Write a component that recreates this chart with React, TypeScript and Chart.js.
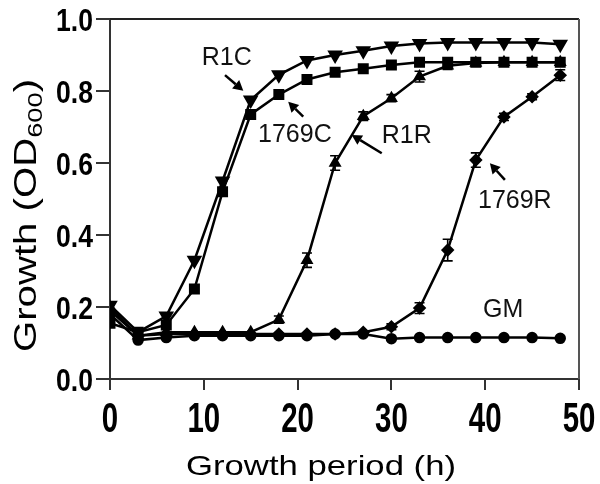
import React, { useEffect, useRef } from 'react';
import { Chart, registerables } from 'chart.js';

Chart.register(...registerables);

// ---- data ----
const hours = [0, 3, 6, 9, 12, 15, 18, 21, 24, 27, 30, 33, 36, 39, 42, 45, 48];
const r1c = [0.205, 0.13, 0.175, 0.33, 0.55, 0.775, 0.845, 0.885, 0.9, 0.912, 0.925, 0.932, 0.935, 0.935, 0.935, 0.935, 0.93];
const c1769 = [0.155, 0.13, 0.15, 0.25, 0.52, 0.735, 0.79, 0.832, 0.852, 0.862, 0.872, 0.88, 0.88, 0.88, 0.88, 0.88, 0.88];
const r1r = [0.2, 0.12, 0.13, 0.13, 0.13, 0.13, 0.165, 0.33, 0.6, 0.73, 0.78, 0.84, 0.87, 0.878, 0.88, 0.88, 0.88];
const r1769 = [0.19, 0.12, 0.125, 0.125, 0.125, 0.125, 0.125, 0.125, 0.125, 0.13, 0.145, 0.197, 0.358, 0.608, 0.728, 0.784, 0.844];
const gm = [0.18, 0.108, 0.115, 0.12, 0.12, 0.12, 0.12, 0.12, 0.125, 0.125, 0.112, 0.115, 0.115, 0.115, 0.115, 0.115, 0.113];
const r1rErr = [0, 0, 0, 0, 0, 0, 0.01, 0.02, 0.02, 0.012, 0.01, 0.015, 0.01, 0.008, 0, 0, 0];
const r1769Err = [0, 0, 0, 0, 0, 0, 0, 0, 0, 0, 0.008, 0.015, 0.03, 0.02, 0.01, 0.008, 0.015];

const xTicks = [0, 10, 20, 30, 40, 50];
const xTickLabels = ['0', '10', '20', '30', '40', '50'];
const yTicks = [0, 0.2, 0.4, 0.6, 0.8, 1.0];
const yTickLabels = ['0.0', '0.2', '0.4', '0.6', '0.8', '1.0'];

const xTitle = 'Growth period (h)';
const yTitleMain = 'Growth (OD';
const yTitleSub = '600';
const yTitleEnd = ')';

// annotation labels (text, anchor in data units: h, OD)
const labelTexts = ['R1C', '1769C', 'R1R', '1769R', 'GM'];
const labelAt = [
  [9.78, 0.872],
  [15.78, 0.658],
  [28.97, 0.656],
  [39.23, 0.475],
  [39.77, 0.172],
];
// arrows: tail -> head in data units
const arrowFrom = [
  [12.26, 0.844],
  [20.6, 0.729],
  [28.97, 0.627],
  [42.1, 0.553],
];
const arrowTo = [
  [14.21, 0.801],
  [19.0, 0.77],
  [25.77, 0.678],
  [40.5, 0.599],
];

const toPts = (ys: number[]) => hours.map((h, i) => ({ x: h, y: ys[i] }));

const FONT = '"Liberation Sans", Arial, Helvetica, sans-serif';

function drawScaled(ctx: CanvasRenderingContext2D, text: string, x: number, y: number, sx: number) {
  ctx.save();
  ctx.translate(x, y);
  ctx.scale(sx, 1);
  ctx.fillText(text, 0, 0);
  ctx.restore();
}

const customPlugin = {
  id: 'customDraw',
  afterDatasetsDraw(chart: any) {
    const { ctx, scales } = chart;
    const x = scales.x;
    const y = scales.y;
    ctx.save();
    ctx.strokeStyle = '#000';
    ctx.lineWidth = 1.6;
    const errs: [number[], number[]][] = [
      [r1r, r1rErr],
      [r1769, r1769Err],
    ];
    for (const [vals, e] of errs) {
      vals.forEach((v, i) => {
        if (!e[i]) return;
        const px = x.getPixelForValue(hours[i]);
        const pt = y.getPixelForValue(v + e[i]);
        const pb = y.getPixelForValue(v - e[i]);
        ctx.beginPath();
        ctx.moveTo(px, pt);
        ctx.lineTo(px, pb);
        ctx.moveTo(px - 5, pt);
        ctx.lineTo(px + 5, pt);
        ctx.moveTo(px - 5, pb);
        ctx.lineTo(px + 5, pb);
        ctx.stroke();
      });
    }
    ctx.restore();
  },
  afterDraw(chart: any) {
    const { ctx, chartArea: a, scales } = chart;
    const x = scales.x;
    const y = scales.y;
    ctx.save();
    // frame top and right
    ctx.lineWidth = 2;
    ctx.strokeStyle = '#222';
    ctx.beginPath();
    ctx.moveTo(a.left, a.top);
    ctx.lineTo(a.right, a.top);
    ctx.stroke();
    ctx.strokeStyle = '#555';
    ctx.beginPath();
    ctx.moveTo(a.right, a.top);
    ctx.lineTo(a.right, a.bottom);
    ctx.stroke();

    ctx.fillStyle = '#000';
    // y tick labels
    ctx.font = `bold 32px ${FONT}`;
    ctx.textAlign = 'right';
    ctx.textBaseline = 'alphabetic';
    yTicks.forEach((v, i) => {
      const py = y.getPixelForValue(v);
      drawScaled(ctx, yTickLabels[i], a.left - 17, py + 11.5, 0.83);
    });
    // x tick labels
    ctx.font = `bold 42px ${FONT}`;
    ctx.textAlign = 'center';
    xTicks.forEach((v, i) => {
      const px = x.getPixelForValue(v);
      drawScaled(ctx, xTickLabels[i], px, a.bottom + 53, 0.7);
    });

    // x title
    ctx.font = `28px ${FONT}`;
    ctx.textAlign = 'left';
    const xw = ctx.measureText(xTitle).width;
    const xTarget = 270;
    drawScaled(ctx, xTitle, 186, 475, xTarget / xw);

    // y title (rotated)
    ctx.save();
    ctx.translate(36, 352);
    ctx.rotate(-Math.PI / 2);
    ctx.font = `31px ${FONT}`;
    const w1 = ctx.measureText(yTitleMain).width;
    ctx.font = `21px ${FONT}`;
    const w2 = ctx.measureText(yTitleSub).width;
    ctx.font = `31px ${FONT}`;
    const w3 = ctx.measureText(yTitleEnd).width;
    const sy = 273 / (w1 + w2 + w3);
    ctx.scale(sy, 1);
    ctx.textAlign = 'left';
    ctx.fillText(yTitleMain, 0, 0);
    ctx.font = `21px ${FONT}`;
    ctx.fillText(yTitleSub, w1, 6);
    ctx.font = `31px ${FONT}`;
    ctx.fillText(yTitleEnd, w1 + w2, 0);
    ctx.restore();

    // annotations
    ctx.font = `25px ${FONT}`;
    ctx.textAlign = 'left';
    ctx.fillStyle = '#111';
    labelTexts.forEach((t, i) => {
      ctx.fillText(t, x.getPixelForValue(labelAt[i][0]), y.getPixelForValue(labelAt[i][1]));
    });
    // arrows
    ctx.strokeStyle = '#000';
    ctx.fillStyle = '#000';
    ctx.lineWidth = 2.5;
    arrowFrom.forEach((f, i) => {
      const x1 = x.getPixelForValue(f[0]);
      const y1 = y.getPixelForValue(f[1]);
      const x2 = x.getPixelForValue(arrowTo[i][0]);
      const y2 = y.getPixelForValue(arrowTo[i][1]);
      const ang = Math.atan2(y2 - y1, x2 - x1);
      const hl = 10;
      const hw = 5.5;
      const bx = x2 - hl * Math.cos(ang);
      const by = y2 - hl * Math.sin(ang);
      ctx.beginPath();
      ctx.moveTo(x1, y1);
      ctx.lineTo(bx, by);
      ctx.stroke();
      ctx.beginPath();
      ctx.moveTo(x2, y2);
      ctx.lineTo(bx + hw * Math.sin(ang), by - hw * Math.cos(ang));
      ctx.lineTo(bx - hw * Math.sin(ang), by + hw * Math.cos(ang));
      ctx.closePath();
      ctx.fill();
    });
    ctx.restore();
  },
};

export default function App() {
  const ref = useRef<HTMLCanvasElement | null>(null);
  useEffect(() => {
    if (!ref.current) return;
    const common = {
      borderColor: '#000',
      backgroundColor: '#000',
      pointBackgroundColor: '#000',
      pointBorderColor: '#000',
      borderWidth: 2.5,
      tension: 0,
      fill: false,
    };
    const chart = new Chart(ref.current, {
      type: 'line',
      data: {
        datasets: [
          { ...common, label: 'GM', data: toPts(gm), pointStyle: 'circle', pointRadius: 4.5 },
          { ...common, label: '1769R', data: toPts(r1769), pointStyle: 'rectRot', pointRadius: 5 },
          { ...common, label: 'R1R', data: toPts(r1r), pointStyle: 'triangle', pointRadius: 5 },
          { ...common, label: '1769C', data: toPts(c1769), pointStyle: 'rect', pointRadius: 6 },
          { ...common, label: 'R1C', data: toPts(r1c), pointStyle: 'triangle', pointRotation: 180, pointRadius: 6.5 },
        ],
      },
      options: {
        animation: false,
        responsive: false,
        devicePixelRatio: 1,
        layout: { padding: { left: 96, right: 21, top: 19, bottom: 94 }, autoPadding: false },
        plugins: { legend: { display: false }, tooltip: { enabled: false } },
        scales: {
          x: {
            type: 'linear',
            min: 0,
            max: 50,
            afterBuildTicks: (s: any) => {
              s.ticks = xTicks.map((v) => ({ value: v }));
            },
            ticks: { display: false },
            grid: { display: true, drawOnChartArea: false, drawTicks: true, tickLength: 11, color: '#333', lineWidth: 2 },
            border: { display: true, color: '#333', width: 2 },
          },
          y: {
            type: 'linear',
            min: 0,
            max: 1,
            afterBuildTicks: (s: any) => {
              s.ticks = yTicks.map((v) => ({ value: v }));
            },
            ticks: { display: false },
            grid: { display: true, drawOnChartArea: false, drawTicks: true, tickLength: 14, color: '#333', lineWidth: 2 },
            border: { display: true, color: '#333', width: 2 },
          },
        },
      },
      plugins: [customPlugin],
    } as any);
    return () => chart.destroy();
  }, []);
  return (
    <div style={{ position: 'fixed', left: 0, top: 0, width: 600, height: 484, background: '#fff' }}>
      <canvas ref={ref} width={600} height={484} style={{ width: 600, height: 484, display: 'block' }} />
    </div>
  );
}
